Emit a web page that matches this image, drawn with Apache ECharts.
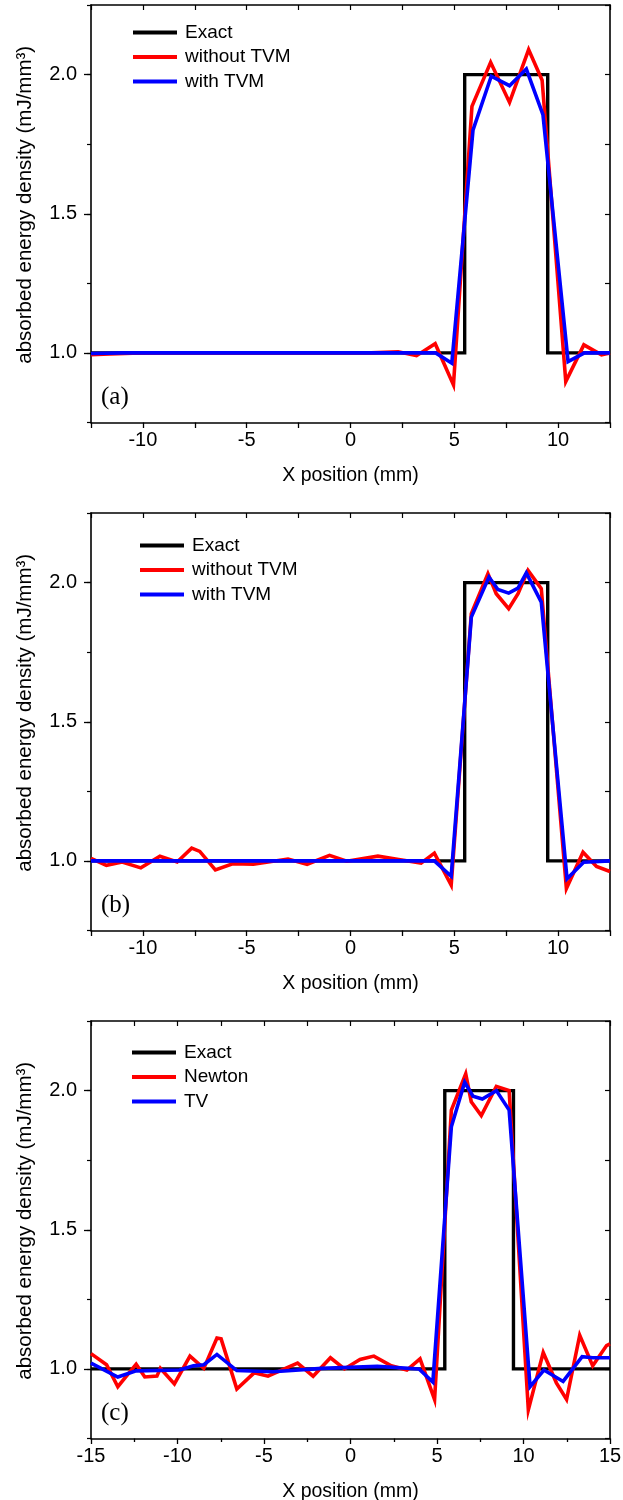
<!DOCTYPE html>
<html><head><meta charset="utf-8">
<script src="https://cdn.jsdelivr.net/npm/echarts@6/dist/echarts.min.js"></script>
<style>html,body{margin:0;padding:0;background:#fff}#c{width:623px;height:1500px}</style>
</head><body><div id="c"></div><script>
// ---- data (x in mm, y in mJ/mm^3) ----
const exactAB = [[-12.5,1],[5.5,1],[5.5,2],[9.5,2],[9.5,1],[12.5,1]];
const exactC  = [[-15,1],[5.45,1],[5.45,2],[9.42,2],[9.42,1],[15,1]];

const redA = [[-12.5,0.994],[-11.6,0.996],[-10.5,0.999],[-9,1.0],[-7,1.0],[-5,1.0],[-3,1.0],[-1,1.0],[1,1.0],[2.3,1.004],
  [3.18,0.99],[4.08,1.033],[4.96,0.885],[5.85,1.886],[6.75,2.044],[7.66,1.90],[8.58,2.09],[9.23,1.98],
  [10.37,0.897],[11.24,1.029],[12.09,0.993],[12.5,1.0]];
const blueA = [[-12.5,0.998],[-11,1.0],[3.4,1.0],[4.1,1.0],[4.88,0.963],[5.9,1.80],[6.78,1.994],[7.66,1.96],
  [8.47,2.02],[9.27,1.856],[10.48,0.969],[11.27,1.0],[12.5,1.0]];

const redB = [[-12.5,1.009],[-11.76,0.984],[-11.0,0.996],[-10.1,0.975],[-9.18,1.017],[-8.35,0.996],[-7.65,1.046],
  [-7.26,1.034],[-6.51,0.968],[-5.68,0.99],[-4.68,0.988],[-3.01,1.007],[-2.09,0.988],[-1.01,1.02],[-0.18,0.999],
  [1.32,1.017],[2.32,1.005],[3.4,0.992],[4.04,1.028],[4.85,0.913],[5.82,1.888],[6.62,2.032],[7.02,1.96],
  [7.62,1.906],[8.07,1.96],[8.55,2.044],[9.19,1.978],[10.40,0.901],[11.2,1.031],[11.85,0.98],[12.5,0.962]];
const blueB = [[-12.5,1.0],[3.4,1.0],[4.04,1.0],[4.85,0.945],[5.82,1.876],[6.67,2.02],[7.1,1.975],[7.62,1.962],
  [8.07,1.98],[8.47,2.035],[9.19,1.93],[10.43,0.936],[11.23,0.995],[12.5,1.0]];

const redC = [[-15,1.055],[-14.1,1.015],[-13.45,0.936],[-12.39,1.017],[-11.89,0.971],[-11.19,0.974],[-10.99,1.002],
  [-10.18,0.946],[-9.28,1.046],[-8.48,1.002],[-7.72,1.111],[-7.48,1.108],[-6.57,0.928],[-5.57,0.986],[-4.77,0.974],
  [-3.66,1.005],[-3.06,1.021],[-2.16,0.974],[-1.16,1.04],[-0.35,1.0],[0.55,1.034],[1.35,1.046],[2.36,1.011],
  [3.26,0.996],[4.02,1.036],[4.86,0.89],[5.83,1.93],[6.66,2.06],[6.98,1.96],[7.56,1.91],[8.43,2.015],[9.17,2.0],
  [10.28,0.853],[11.14,1.059],[11.9,0.95],[12.49,0.89],[13.25,1.121],[14.0,1.011],[14.8,1.084],[15,1.09]];
const blueC = [[-15,1.021],[-13.45,0.971],[-12.39,0.993],[-9.88,0.996],[-9.08,1.011],[-8.48,1.015],[-7.72,1.052],
  [-6.57,0.994],[-4.47,0.99],[-1.66,1.002],[1.55,1.009],[3.96,1.0],[4.76,0.953],[5.83,1.87],[6.6,2.03],[7.08,1.98],
  [7.62,1.97],[8.43,2.0],[9.17,1.93],[10.38,0.936],[11.18,0.996],[12.29,0.955],[13.39,1.044],[14.0,1.04],[15,1.04]];

const namesAB = ['Exact','without TVM','with TVM'];
const namesC  = ['Exact','Newton','TV'];
const panelLabels = ['(a)','(b)','(c)'];
const yLabelValues = [1.0, 1.5, 2.0];
const xTitle = 'X position (mm)';
const yTitle = 'absorbed energy density (mJ/mm\u00B3)';

// ---- layout ----
const FONT = 'Liberation Sans, Arial, Helvetica, sans-serif';
const tops = [5, 513, 1021];
const H = 417.5;
const legendPos = [{left:133, top:23}, {left:140, top:536}, {left:132, top:1043}];

const grids = tops.map(t => ({left:91, right:13, top:t, height:H, outerBoundsMode:'none', containLabel:false}));
const axisLine = {show:true, onZero:false, lineStyle:{color:'#000', width:1.6}};
const xAxes = [], yAxes = [], series = [];

function addPanel(g, xmin, xmax, datasets, names) {
  const isC = xmax === 15;
  // bottom x axis
  xAxes.push({
    gridIndex:g, type:'value', min:xmin, max:xmax, interval: isC ? 5 : 2.5, position:'bottom',
    axisLine, splitLine:{show:false},
    axisTick:{show:true, inside:false, length:5.5, lineStyle:{color:'#000', width:1.3}},
    minorTick:{show:isC, splitNumber:2, length:3.5, lineStyle:{color:'#000', width:1.3}},
    axisLabel:{color:'#000', fontFamily:FONT, fontSize:20, margin:8,
      formatter: v => (Math.abs(v % 5) < 1e-9 ? String(v) : '')},
    name:xTitle, nameLocation:'middle', nameGap:43,
    nameTextStyle:{color:'#000', fontFamily:FONT, fontSize:19.5}
  });
  const xb = xAxes.length - 1;
  // top x axis (ticks only, inside)
  xAxes.push({
    gridIndex:g, type:'value', min:xmin, max:xmax, interval:2.5, position:'top',
    axisLine, splitLine:{show:false},
    axisTick:{show:true, inside:true, length:5, lineStyle:{color:'#000', width:1.2}},
    axisLabel:{show:false}
  });
  // left y axis: labels and major ticks
  yAxes.push({
    gridIndex:g, type:'value', min:0.75, max:2.25, interval:0.25, position:'left',
    axisLine, splitLine:{show:false},
    axisTick:{show:true, inside:false, length:7, customValues:yLabelValues, lineStyle:{color:'#000', width:1.3}},
    axisLabel:{color:'#000', fontFamily:FONT, fontSize:20, margin:14, customValues:yLabelValues,
      formatter: v => { const d = v*2; return (Math.abs(d-Math.round(d))<1e-9 && v>=1 && v<=2) ? v.toFixed(1) : ''; }},
    name:yTitle, nameLocation:'middle', nameGap:55, nameRotate:90,
    nameTextStyle:{color:'#000', fontFamily:FONT, fontSize:20.5, padding:[0,0,0,18]}
  });
  const yl = yAxes.length - 1;
  // left y axis: minor ticks
  yAxes.push({
    gridIndex:g, type:'value', min:0.75, max:2.25, interval:0.25, position:'left',
    axisLine:{show:false, onZero:false}, splitLine:{show:false},
    axisTick:{show:true, inside:false, length:4, lineStyle:{color:'#000', width:1.2}},
    axisLabel:{show:false}
  });
  // right y axis (ticks only, inside)
  yAxes.push({
    gridIndex:g, type:'value', min:0.75, max:2.25, interval:0.25, position:'right',
    axisLine, splitLine:{show:false},
    axisTick:{show:true, inside:true, length:5, lineStyle:{color:'#000', width:1.2}},
    axisLabel:{show:false}
  });
  const colors = ['#000000', '#ff0000', '#0000ff'];
  datasets.forEach((d, i) => {
    series.push({
      type:'line', name:names[i], data:d, xAxisIndex:xb, yAxisIndex:yl,
      showSymbol:false, symbol:'none', animation:false, clip:true,
      lineStyle:{color:colors[i], width: i === 0 ? 3.4 : 3.6, join:'miter'},
      itemStyle:{color:colors[i]}, z: 2 + i
    });
  });
}

addPanel(0, -12.5, 12.5, [exactAB, redA, blueA], namesAB);
addPanel(1, -12.5, 12.5, [exactAB, redB, blueB], namesAB);
addPanel(2, -15, 15, [exactC, redC, blueC], namesC);

const legends = [namesAB, namesAB, namesC].map((n, i) => ({
  data:n, orient:'vertical', left:legendPos[i].left, top:legendPos[i].top,
  icon:'rect', itemWidth:44, itemHeight:4, itemGap:5.5, padding:0, selectedMode:false,
  textStyle:{color:'#000', fontFamily:FONT, fontSize:19, padding:[0,0,0,3]}
}));

const titles = panelLabels.map((t, i) => ({
  text:t, left:101, top:tops[i] + 380, padding:0,
  textStyle:{fontFamily:'Liberation Serif, Times New Roman, serif', fontSize:25, fontWeight:'normal', color:'#000'}
}));

const chart = echarts.init(document.getElementById('c'), null, {renderer:'canvas'});
chart.setOption({
  backgroundColor:'#fff', animation:false,
  title:titles, legend:legends, grid:grids, xAxis:xAxes, yAxis:yAxes, series
});
</script></body></html>
